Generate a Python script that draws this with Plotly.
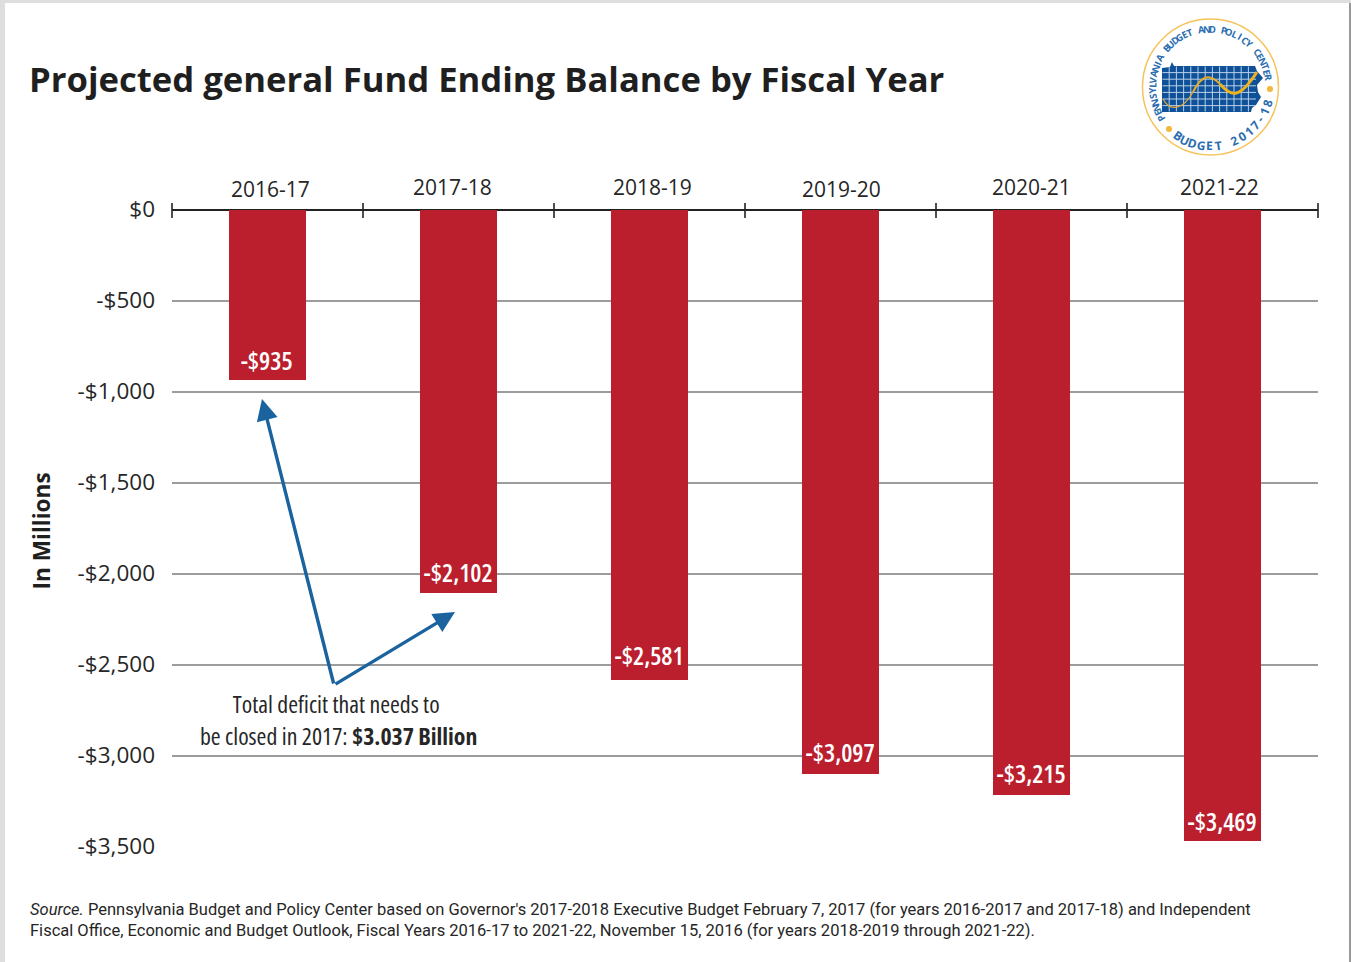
import math
import plotly.graph_objects as go

W, H = 1351, 962
ML, MR, MT, MB = 172, 33, 210, 115

fiscal_years = ["2016-17", "2017-18", "2018-19", "2019-20", "2020-21", "2021-22"]
balances = [-935, -2102, -2581, -3097, -3215, -3469]
bar_labels = ["-$935", "-$2,102", "-$2,581", "-$3,097", "-$3,215", "-$3,469"]
y_ticks = [0, -500, -1000, -1500, -2000, -2500, -3000, -3500]
y_tick_labels = ["$0", "-$500", "-$1,000", "-$1,500", "-$2,000", "-$2,500", "-$3,000", "-$3,500"]
year_label_shift = [3, -6, 3, 1, 0, -3]
year_label_rise = [0, 2, 2, 0, 2, 2]
bar_label_rise = [20, 21, 25, 22, 22, 20]

TEXT = "#262626"
RED = "#bb1e2d"
BLUE = "#1a639f"
NAVY = "#0f5199"
GOLD = "#f3b739"
SANS = "Open Sans"
NOTE = "Roboto"
# A family named stretch75 falls through to Open Sans; the page script below then
# selects the condensed width of that font.
NARROW = "stretch75, Open Sans"


def px(x):
    """Page pixel to paper fraction, horizontally."""
    return (x - ML) / (W - ML - MR)


def py(y):
    """Page pixel to paper fraction, vertically."""
    return 1 - (y - MT) / (H - MT - MB)


def page_text(x, y, text, size, font=SANS, color=TEXT, angle=0, xanchor="center"):
    return dict(xref="paper", yref="paper", x=px(x), y=py(y), text=text, showarrow=False,
                xanchor=xanchor, yanchor="middle", textangle=angle,
                font=dict(family=font, size=size, color=color))


fig = go.Figure(go.Bar(
    x=fiscal_years, y=balances, width=0.403, marker=dict(color=RED, line_width=0),
    hoverinfo="x+y",
))

shapes = []
annotations = []

# Window edge along the left, top and right of the page
shapes.append(dict(type="rect", xref="paper", yref="paper", x0=px(0), x1=px(5), y0=py(0), y1=py(H),
                   fillcolor="#dedede", line_width=0))
shapes.append(dict(type="rect", xref="paper", yref="paper", x0=px(0), x1=px(W), y0=py(0), y1=py(3),
                   fillcolor="#dedede", line_width=0))
shapes.append(dict(type="rect", xref="paper", yref="paper", x0=px(W - 2), x1=px(W), y0=py(3), y1=py(H),
                   fillcolor="#999999", line_width=0))

# Ticks crossing the zero line at the category boundaries
for i in range(len(fiscal_years) + 1):
    f = i / len(fiscal_years)
    shapes.append(dict(type="line", xref="paper", yref="paper", x0=f, x1=f, y0=py(203), y1=py(218),
                       line=dict(color="#222222", width=1.6), layer="below"))
shapes.append(dict(type="line", xref="paper", yref="paper", x0=0, x1=1, y0=1, y1=1,
                   line=dict(color="#222222", width=2), layer="below"))

# Year headings above the axis and value labels inside each bar
for name, dx, rise in zip(fiscal_years, year_label_shift, year_label_rise):
    annotations.append(dict(xref="x", yref="paper", x=name, y=py(189.5 - rise), xshift=dx, text=name,
                            showarrow=False, yanchor="middle",
                            font=dict(family=SANS, size=21, color=TEXT)))
for name, value, label, rise in zip(fiscal_years, balances, bar_labels, bar_label_rise):
    annotations.append(dict(xref="x", yref="y", x=name, y=value, xshift=-1, yshift=rise, text=label,
                            showarrow=False, yanchor="middle",
                            font=dict(family=NARROW, size=25, color="white", weight=600)))

annotations.append(page_text(27, 78.5, "<b>Projected general Fund Ending Balance by Fiscal Year</b>",
                             34.65, font=SANS, color="#1f1f1f", xanchor="left"))
annotations.append(page_text(41, 531.5, "<b>In Millions</b>", 22.6, angle=-90, color="#1f1f1f"))

# Callout text and its two arrows
annotations.append(page_text(336, 704, "Total deficit that needs to", 23.8, font=NARROW))
annotations.append(page_text(338, 736, "be closed in 2017: <b>$3.037 Billion</b>", 23.8, font=NARROW))
for tip_x, tip_y in [(262, 399), (455, 612)]:
    annotations.append(dict(xref="paper", yref="paper", x=px(tip_x), y=py(tip_y),
                            axref="pixel", ayref="pixel", ax=334 - tip_x, ay=685 - tip_y,
                            text="", showarrow=True, arrowhead=2, arrowsize=1.25, arrowwidth=3.4,
                            arrowcolor=BLUE))

# Source note
annotations.append(page_text(
    28, 909,
    "<i>Source.</i> Pennsylvania Budget and Policy Center based on Governor's 2017-2018 Executive Budget "
    "February 7, 2017 (for years 2016-2017 and 2017-18) and Independent",
    16.5, font=NOTE, xanchor="left"))
annotations.append(page_text(
    28, 930,
    "Fiscal Office, Economic and Budget Outlook, Fiscal Years 2016-17 to 2021-22, November 15, 2016 "
    "(for years 2018-2019 through 2021-22).",
    16.5, font=NOTE, xanchor="left"))

# Emblem: ring, state outline, grid and trend curve
CX, CY, R = 1210.5, 87, 68
shapes.append(dict(type="circle", xref="paper", yref="paper", x0=px(CX - R), x1=px(CX + R),
                   y0=py(CY - R), y1=py(CY + R), line=dict(color="#f6c35a", width=1.5)))


def page_path(points):
    return "M " + " L ".join(f"{px(x):.5f},{py(y):.5f}" for x, y in points) + " Z"


state = [(1162, 68), (1170, 67), (1172, 62), (1174, 66), (1255, 66), (1257, 71), (1263, 78),
         (1257, 85), (1258, 92), (1261, 97), (1256, 105), (1252, 108), (1251, 112), (1162, 112)]
shapes.append(dict(type="path", xref="paper", yref="paper", path=page_path(state),
                   fillcolor=NAVY, line_width=0))
for col in range(1, 13):
    gx = 1162 + col * 7.2
    shapes.append(dict(type="line", xref="paper", yref="paper", x0=px(gx), x1=px(gx),
                       y0=py(66.5), y1=py(111.5), line=dict(color="#b9cfe6", width=1)))
for row in range(1, 7):
    gy = 66 + row * 6.6
    shapes.append(dict(type="line", xref="paper", yref="paper", x0=px(1162.5), x1=px(1256),
                       y0=py(gy), y1=py(gy), line=dict(color="#b9cfe6", width=1)))


def page_curve(points):
    head, rest = points[0], points[1:]
    d = f"M {px(head[0]):.5f},{py(head[1]):.5f} C "
    return d + " ".join(f"{px(x):.5f},{py(y):.5f}" for x, y in rest)


shapes.append(dict(type="path", xref="paper", yref="paper",
                   path=page_curve([(1163, 99), (1170, 112), (1183, 110), (1193, 92)]),
                   line=dict(color="#e0a92e", width=1.3)))
shapes.append(dict(type="path", xref="paper", yref="paper",
                   path=page_curve([(1193, 92), (1202, 74), (1210, 74), (1220, 84)]),
                   line=dict(color="#e6ad28", width=2)))
shapes.append(dict(type="path", xref="paper", yref="paper",
                   path=page_curve([(1220, 84), (1232, 98), (1240, 98), (1257, 72)]),
                   line=dict(color="#eeb21f", width=3)))

for dot_x, dot_y in [(1270, 89), (1169, 129)]:
    shapes.append(dict(type="circle", xref="paper", yref="paper", x0=px(dot_x - 3), x1=px(dot_x + 3),
                       y0=py(dot_y - 3), y1=py(dot_y + 3), fillcolor=GOLD, line_width=0))


def arc_letters(word, start_deg, end_deg, radius, size, bottom=False):
    """Set a word letter by letter along the emblem's ring."""
    step = (end_deg - start_deg) / (len(word) - 1)
    for i, ch in enumerate(word):
        deg = start_deg + i * step
        a = math.radians(deg)
        x = CX + radius * math.sin(a)
        y = CY - radius * math.cos(a)
        annotations.append(page_text(x, y, f"<b>{ch}</b>", size, font=SANS, color="#2a6db0",
                                     angle=deg + 180 if bottom else deg))


arc_letters("PENNSYLVANIA BUDGET AND POLICY CENTER", -122, 81, 58, 9.5)
arc_letters("BUDGET 2017-18", 214, 106, 59, 12, bottom=True)

fig.update_layout(
    width=W, height=H, autosize=False,
    margin=dict(l=ML, r=MR, t=MT, b=MB),
    paper_bgcolor="white", plot_bgcolor="white",
    showlegend=False, bargap=0,
    xaxis=dict(type="category", categoryorder="array", categoryarray=fiscal_years,
               range=[-0.5, 5.5], showticklabels=False, ticks="", showgrid=False,
               showline=False, zeroline=False),
    yaxis=dict(range=[-3500, 0], tickmode="array", tickvals=y_ticks, ticktext=y_tick_labels,
               showgrid=True, gridcolor="#9c9c9c", gridwidth=2, zeroline=False, showline=False,
               ticks="", ticklabelstandoff=16, ticklabelshift=-1,
               tickfont=dict(family=SANS, size=22.5, color=TEXT)),
    shapes=shapes,
    annotations=annotations,
)

# Applies the condensed width once the page has been drawn
width_script = """
document.querySelectorAll('svg text').forEach(function (t) {
  var m = /stretch(\\d+)/.exec(t.style.fontFamily || '');
  if (m) { t.style.fontStretch = m[1] + '%'; }
});
"""
fig.write_html("out.html", post_script=width_script)
